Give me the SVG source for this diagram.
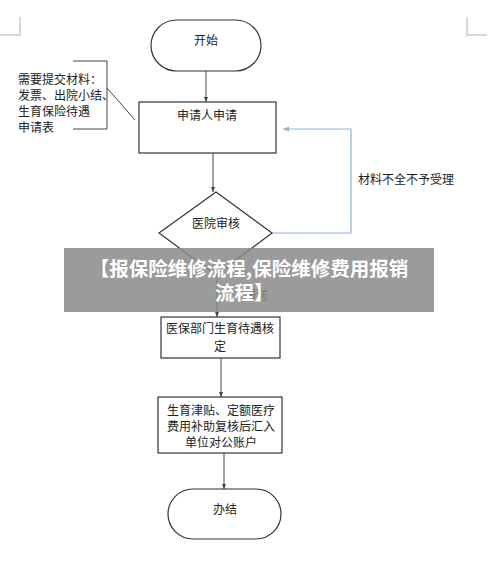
<svg xmlns="http://www.w3.org/2000/svg" width="500" height="562" viewBox="0 0 500 562">
<style>
.s{fill:#fff;stroke:#333;stroke-width:1.2}
.t{font-family:"Noto Sans CJK SC","Liberation Sans",sans-serif;font-size:12px;fill:#222}
.c{stroke:#444;stroke-width:1;fill:none}
.b{stroke:#8fb4d8;stroke-width:1.2;fill:none}
.m{stroke:#ccc;stroke-width:1.5;fill:none}
.w{font-family:"Noto Sans CJK SC","Liberation Sans",sans-serif;font-size:19.5px;font-weight:bold;fill:#fff}
</style>
<defs>
<marker id="a" viewBox="0 0 10 10" refX="10" refY="5" markerWidth="5" markerHeight="5" orient="auto"><path d="M0,1 L10,5 L0,9 z" fill="#444"/></marker>
<marker id="ab" viewBox="0 0 10 10" refX="10" refY="5" markerWidth="5" markerHeight="5" orient="auto"><path d="M0,1 L10,5 L0,9 z" fill="#8fb4d8"/></marker>
</defs>
<rect width="500" height="562" fill="#fff"/>
<g id="marks">
<path class="m" d="M0,35 H20 V17"/>
<path class="m" d="M467,17 V35 H487"/>
</g>
<g id="connectors">
<line class="c" x1="206" y1="71" x2="206" y2="102" marker-end="url(#a)"/>
<line class="c" x1="213" y1="153" x2="213" y2="192" marker-end="url(#a)"/>
<line class="c" x1="217" y1="275" x2="217" y2="317" marker-end="url(#a)"/>
<line class="c" x1="221" y1="358" x2="221" y2="397" marker-end="url(#a)"/>
<line class="c" x1="224" y1="453" x2="224" y2="489" marker-end="url(#a)"/>
<path class="b" d="M272,233 H351 V129 H283" marker-end="url(#ab)"/>
<text class="t" x="358" y="184">材料不全不予受理</text>
<text class="t" x="244" y="300" font-size="11">报送</text>
</g>
<g id="note">
<path class="c" d="M73,61 H107 V129 H73"/>
<line class="c" x1="107" y1="88" x2="135" y2="120"/>
<text class="t" x="18" y="84">需要提交材料：</text>
<text class="t" x="18" y="100">发票、出院小结、</text>
<text class="t" x="18" y="116">生育保险待遇</text>
<text class="t" x="18" y="132">申请表</text>
</g>
<g id="start">
<rect class="s" x="151" y="20" width="110" height="51" rx="25.5"/>
<text class="t" x="206" y="45" text-anchor="middle">开始</text>
</g>
<g id="apply">
<rect class="s" x="139" y="102" width="137" height="51"/>
<text class="t" x="207" y="120" text-anchor="middle">申请人申请</text>
</g>
<g id="hospital">
<polygon class="s" points="216,192 272,233 216,275 159,233"/>
<text class="t" x="216" y="228" text-anchor="middle">医院审核</text>
</g>
<g id="insurance">
<rect class="s" x="161" y="317" width="119" height="41"/>
<text class="t" x="220" y="333" text-anchor="middle">医保部门生育待遇核</text>
<text class="t" x="220" y="351" text-anchor="middle">定</text>
</g>
<g id="subsidy">
<rect class="s" x="158" y="397" width="124" height="56"/>
<text class="t" x="221" y="415" text-anchor="middle">生育津贴、定额医疗</text>
<text class="t" x="221" y="431" text-anchor="middle">费用补助复核后汇入</text>
<text class="t" x="221" y="447" text-anchor="middle">单位对公账户</text>
</g>
<g id="end">
<rect class="s" x="168" y="489" width="113" height="50" rx="25"/>
<text class="t" x="225" y="514" text-anchor="middle">办结</text>
</g>
<g id="banner">
<rect x="64" y="248" width="370" height="64" fill="#8a8a8a" fill-opacity="0.85"/>
<text class="w" x="249" y="276" text-anchor="middle">【报保险维修流程,保险维修费用报销</text>
<text class="w" x="215" y="300">流程】</text>
</g>
</svg>
